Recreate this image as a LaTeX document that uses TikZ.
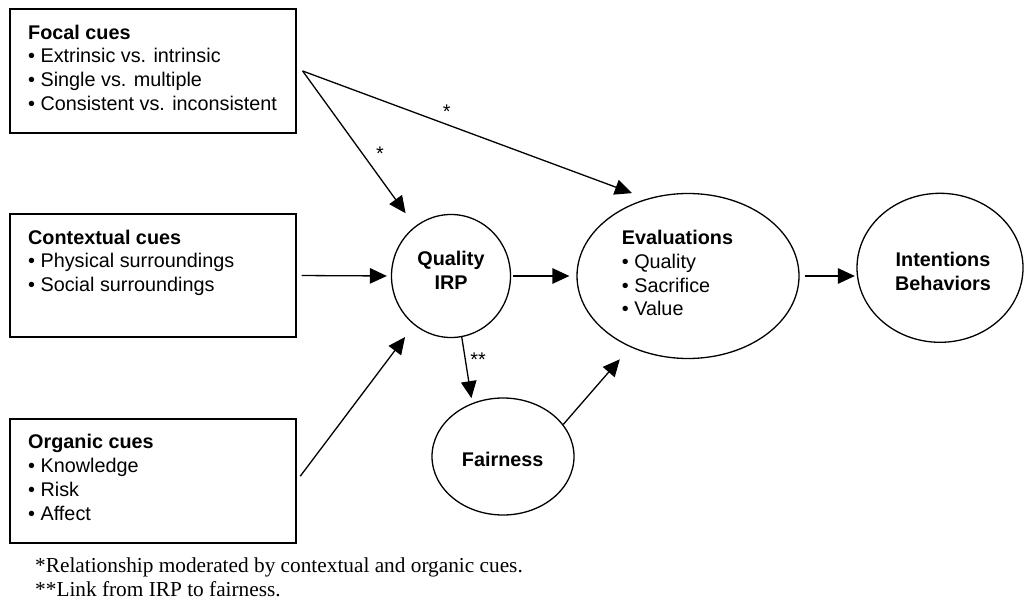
\documentclass[tikz,border=0pt]{standalone}
\usepackage{fontspec}
\setmainfont{Liberation Sans}
\newfontfamily\notefont{Liberation Serif}
\usetikzlibrary{arrows.meta,calc,shapes.geometric}
\tikzset{
  ln/.style={line width=1.3pt},
  cuebox/.style={draw, ln, rectangle, minimum width=286pt, minimum height=124pt, inner sep=0pt},
  oval/.style={draw, ln, ellipse, inner sep=0pt},
  body/.style={font=\fontsize{19.8}{23.8}\selectfont, align=left, inner sep=0pt, anchor=north west},
  ctr/.style={font=\fontsize{19.8}{24}\selectfont\bfseries, align=center, inner sep=0pt},
  arr/.style={ln, -{Triangle[length=17pt,width=15.5pt]}},
  starlbl/.style={font=\fontsize{19.8}{24}\selectfont, inner sep=0pt, anchor=base},
  note/.style={font=\notefont\fontsize{21.3}{24}\selectfont, align=left, inner sep=0pt, anchor=north west},
}
\begin{document}
\begin{tikzpicture}[x=1pt,y=-1pt]
\useasboundingbox (0,0) rectangle (1024,609);
% cue boxes
\node[cuebox] (fo) at (153,71) {};
\node[cuebox, minimum height=123pt] (cx) at (153,275.5) {};
\node[cuebox] (og) at (153,481) {};
\node[body] (fot) at (28,24.5) {\textbf{Focal cues}\\\textbullet{} Extrinsic vs. intrinsic\\\textbullet{} Single vs. multiple\\\textbullet{} Consistent vs. inconsistent};
\node[body] (cxt) at (28,229.5) {\textbf{Contextual cues}\\\textbullet{} Physical surroundings\\\textbullet{} Social surroundings};
\node[body] (ogt) at (28,434.3) {\textbf{Organic cues}\\\textbullet{} Knowledge\\\textbullet{} Risk\\\textbullet{} Affect};
% ovals
\node[oval, minimum width=119pt, minimum height=123pt] (q) at (451,276) {};
\node[ctr] (qt) at (451,270) {Quality\\IRP};
\node[oval, minimum width=222pt, minimum height=165pt] (ev) at (688,276) {};
\node[body] (evt) at (621.7,230) {\textbf{Evaluations}\\\textbullet{} Quality\\\textbullet{} Sacrifice\\\textbullet{} Value};
\node[oval, minimum width=166pt, minimum height=149pt] (it) at (940,267.8) {};
\node[ctr] (itt) at (943,271) {Intentions\\Behaviors};
\node[oval, minimum width=142pt, minimum height=117pt] (fa) at (503,456.5) {};
\node[ctr, anchor=base] (fat) at (502.7,466.7) {Fairness};
% connectors
\coordinate (fsrc) at ($(fo.east)+(6,0)$);
\draw[arr, shorten >=16pt] (fsrc) -- (q);
\draw[arr, shorten >=16pt] (fsrc) -- (ev.118);
\draw[arr, shorten <=5pt, shorten >=4pt] (cx.east) -- (q.west);
\draw[arr, shorten <=6pt, shorten >=15pt] (og.east) -- (q);
\draw[arr, shorten <=2pt, shorten >=7pt] (q.east) -- (ev.west);
\draw[arr, shorten >=5pt] (q.280) -- (fa.120);
\draw[arr, shorten >=16pt] (fa.28) -- (ev.231);
\draw[arr, shorten <=5pt, shorten >=1.5pt] (ev.east) -- (ev.east -| it.west);
% labels
\node[starlbl] (s1) at (380,161) {*};
\node[starlbl] (s2) at (446.7,119) {*};
\node[starlbl] (s3) at (478,366.7) {**};
% footnote
\node[note] (fn) at (35,558) {*Relationship moderated by contextual and organic cues.\\**Link from IRP to fairness.};
\end{tikzpicture}
\end{document}
